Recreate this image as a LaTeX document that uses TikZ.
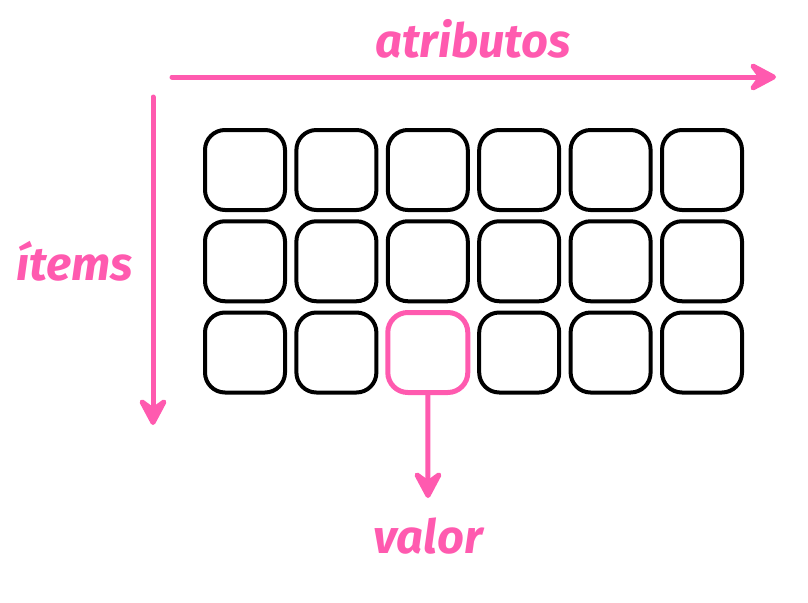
\documentclass[tikz,border=0pt]{standalone}
\usepackage{fontspec}
\setmainfont{Fira Sans}
\usepackage{xcolor}
\usepackage{tikz}
\usetikzlibrary{positioning}
\usetikzlibrary{arrows.meta}

\definecolor{rosa}{RGB}{255,90,175}

\begin{document}
\begin{tikzpicture}[x=1pt, y=-1pt,
    celda/.style={draw, line width=4pt, rounded corners=20pt, minimum size=80pt, inner sep=0pt},
    flecha/.style={rosa, line width=5pt, line cap=round, -{Stealth[round, length=34pt, width=36pt, inset=13pt]}},
    etiqueta/.style={rosa, font=\fontsize{47}{50}\selectfont\bfseries\itshape, anchor=base}]
    \useasboundingbox (0,0) rectangle (808,602);

    % Grid of values (the highlighted one is drawn apart)
    \foreach \i in {1,...,6}
        \foreach \j in {1,...,3}{
            \ifnum\i\j=33 \else
                \node[celda] (c\i\j) at ({245+(\i-1)*91.4}, {170+(\j-1)*91.25}) {};
            \fi
        }

    % Highlighted value
    \node[celda, rosa, line width=5pt] (c33) at ({245+2*91.4}, {170+2*91.25}) {};

    % Axes
    \coordinate (a0) at (172,77);
    \coordinate (a1) at (776,77);
    \coordinate (i0) at (153,97);
    \coordinate (i1) at (153,425);
    \coordinate (v1) at (428,498);
    \draw[flecha] (a0) -- (a1);
    \draw[flecha] (i0) -- (i1);
    \draw[flecha] (c33.south) -- (v1);

    % Labels
    \node[etiqueta] (atributos) at (473,57) {atributos};
    \node[etiqueta] (items) at (75,280) {ítems};
    \node[etiqueta] (valor) at (428,553) {valor};
\end{tikzpicture}
\end{document}
